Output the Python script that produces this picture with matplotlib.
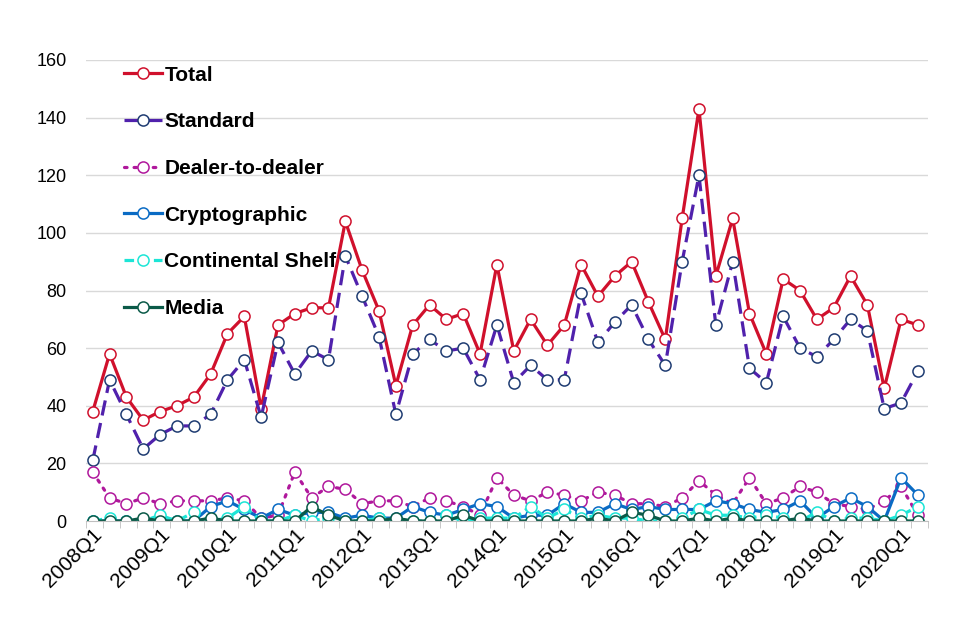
import matplotlib
matplotlib.use('Agg')
import numpy as np
import matplotlib.pyplot as plt

plt.rcParams['font.family'] = ['Liberation Sans', 'DejaVu Sans']

# quarterly series, 2008Q1 .. 2020Q2
quarters = ['%dQ%d' % (y, q) for y in range(2008, 2021) for q in range(1, 5)][:50]

total = [38, 58, 43, 35, 38, 40, 43, 51, 65, 71,
         39, 68, 72, 74, 74, 104, 87, 73, 47, 68,
         75, 70, 72, 58, 89, 59, 70, 61, 68, 89,
         78, 85, 90, 76, 63, 105, 143, 85, 105, 72,
         58, 84, 80, 70, 74, 85, 75, 46, 70, 68]
standard = [21, 49, 37, 25, 30, 33, 33, 37, 49, 56,
            36, 62, 51, 59, 56, 92, 78, 64, 37, 58,
            63, 59, 60, 49, 68, 48, 54, 49, 49, 79,
            62, 69, 75, 63, 54, 90, 120, 68, 90, 53,
            48, 71, 60, 57, 63, 70, 66, 39, 41, 52]
dealer = [17, 8, 6, 8, 6, 7, 7, 7, 8, 7,
          1, 2, 17, 8, 12, 11, 6, 7, 7, 5,
          8, 7, 5, 2, 15, 9, 7, 10, 9, 7,
          10, 9, 6, 6, 5, 8, 14, 9, 6, 15,
          6, 8, 12, 10, 6, 5, 4, 7, 12, 2]
crypto = [0, 0, 0, 0, 0, 0, 0, 5, 7, 4,
          1, 4, 2, 3, 3, 1, 2, 1, 1, 5,
          3, 2, 4, 6, 5, 1, 2, 2, 6, 3,
          3, 6, 4, 5, 4, 4, 4, 7, 6, 4,
          3, 4, 7, 1, 5, 8, 5, 0, 15, 9]
shelf = [0, 1, 0, 0, 2, 0, 3, 0, 1, 5,
         0, 0, 2, 0, 1, 0, 0, 1, 0, 0,
         0, 2, 0, 1, 1, 1, 5, 1, 4, 1,
         2, 1, 1, 0, 0, 1, 4, 2, 2, 1,
         2, 1, 0, 3, 0, 1, 1, 0, 2, 5]
media = [0, 0, 0, 1, 0, 0, 0, 1, 0, 0,
         0, 0, 0, 5, 2, 0, 0, 0, 1, 0,
         0, 0, 2, 0, 0, 0, 0, 0, 0, 0,
         1, 0, 3, 2, 0, 0, 1, 0, 1, 0,
         0, 0, 1, 0, 0, 0, 0, 0, 0, 0]

series = [
    ('Total', total, '#D0102C', '#D0102C', '-'),
    ('Standard', standard, '#5021AC', '#1F3C72', (0, (4.8, 2.4))),
    ('Dealer-to-dealer', dealer, '#B0189C', '#B0189C', (0, (0.8, 2.2))),
    ('Cryptographic', crypto, '#0A6BC4', '#0A6BC4', '-'),
    ('Continental Shelf', shelf, '#1CE5D6', '#1CE5D6', (0, (3, 1.6))),
    ('Media', media, '#0B5A48', '#0B5A48', '-'),
]

fig = plt.figure(figsize=(9.6, 6.4), dpi=100)
ax = fig.add_axes([86/960, 119/640, (928-86)/960, (521-60)/640])
x = np.arange(len(quarters))
for name, vals, col, edge, ls in series:
    ax.plot(x, vals, color=col, ls=ls, lw=2.3, marker='o', ms=8,
            mfc='white', mec=edge, mew=1.1, label=name,
            dash_capstyle='round' if name == 'Dealer-to-dealer' else 'butt')

ax.set_xlim(-0.4, 49.6)
ax.set_ylim(0, 160)
ax.set_yticks(np.arange(0, 161, 20))
ax.grid(True, axis='y', color='#D9D9D9', lw=1)
ax.set_axisbelow(True)
for s in ['top', 'right', 'left']:
    ax.spines[s].set_visible(False)
ax.spines['bottom'].set_color('#BFBFBF')
ax.tick_params(axis='y', length=0, labelsize=13, pad=14)
ax.set_xticks(x[::4])
ax.set_xticklabels(quarters[::4], rotation=45, ha='right', rotation_mode='anchor',
                   fontsize=15)
ax.set_xticks(np.arange(51) - 0.4, minor=True)
ax.tick_params(axis='x', which='major', length=0, pad=3)
ax.tick_params(axis='x', which='minor', length=5, color='#BFBFBF')

leg = ax.legend(loc='upper left', bbox_to_anchor=(0.035, 1.006), frameon=False,
                prop={'weight': 'bold', 'size': 15}, labelspacing=1.33,
                handlelength=1.85, handletextpad=0.1, borderaxespad=0)

fig.savefig('out.png', dpi=100)
